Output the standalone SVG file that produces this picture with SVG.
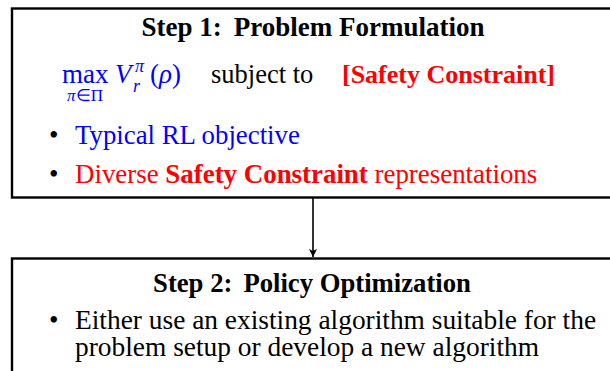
<svg xmlns="http://www.w3.org/2000/svg" width="610" height="371" viewBox="0 0 610 371">
<defs>
<style>
.box{fill:#fff;stroke:#000;stroke-width:2.4}
.t{font-family:"Liberation Serif","Times New Roman",serif;font-size:26px;fill:#000}
.b{font-weight:bold}
.blue{fill:#0000ff}
.red{fill:#ff0000}
.it{font-style:italic}
.conn{stroke:#000;stroke-width:1.6;fill:none}
</style>
<marker id="ah" viewBox="0 0 10 10" refX="10" refY="5" markerWidth="8" markerHeight="8" markerUnits="userSpaceOnUse" orient="auto">
<path d="M0,0 L10,5 L0,10 L2.5,5 Z" fill="#000"/>
</marker>
</defs>
<g id="connectors">
<line class="conn" x1="313" y1="198" x2="313" y2="257" marker-end="url(#ah)"/>
</g>
<g id="step1">
<rect class="box" x="12" y="8.5" width="603" height="189"/>
<text class="t b" x="313" y="36" text-anchor="middle" style="font-size:27px">Step 1:<tspan dx="12">Problem Formulation</tspan></text>
<g id="formula">
<text class="t blue" x="62" y="83" style="font-size:27px">max</text>
<text class="t blue" x="85" y="101" text-anchor="middle" style="font-size:17px"><tspan class="it">π</tspan>∈Π</text>
<text class="t blue it" x="115" y="83" style="font-size:27px">V</text>
<text class="t blue it" x="135" y="72" style="font-size:18px">π</text>
<text class="t blue it" x="133" y="92" style="font-size:18px">r</text>
<text class="t blue" x="150" y="83" style="font-size:27px">(<tspan class="it">ρ</tspan>)</text>
<text class="t" x="211" y="83" style="font-size:26.5px">subject to</text>
<text class="t b red" x="342" y="83">[Safety Constraint]</text>
</g>
<text class="t" x="49" y="144" style="font-size:27px">•</text>
<text class="t blue" x="75" y="144" style="font-size:26.8px">Typical RL objective</text>
<text class="t" x="49" y="183" style="font-size:27px">•</text>
<text class="t red" x="75" y="183" style="font-size:26.9px">Diverse <tspan class="b">Safety Constraint</tspan> representations</text>
</g>
<g id="step2">
<rect class="box" x="12" y="258.5" width="603" height="130"/>
<text class="t b" x="312" y="292" text-anchor="middle" style="font-size:26.7px">Step 2:<tspan dx="11">Policy Optimization</tspan></text>
<text class="t" x="49" y="329" style="font-size:27px">•</text>
<text class="t" x="75" y="329" style="font-size:27.4px">Either use an existing algorithm suitable for the</text>
<text class="t" x="75" y="356" style="font-size:27.4px">problem setup or develop a new algorithm</text>
</g>
</svg>
